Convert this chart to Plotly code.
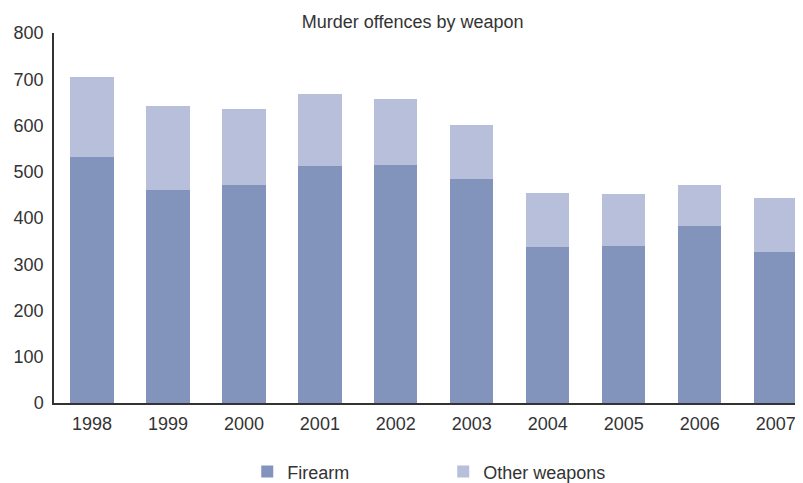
import plotly.graph_objects as go

years = ["1998", "1999", "2000", "2001", "2002", "2003", "2004", "2005", "2006", "2007"]
firearm = [532, 461, 471, 512, 515, 484, 337, 339, 383, 326]
other_weapons = [173, 181, 165, 156, 142, 117, 117, 113, 88, 117]
y_ticks = [0, 100, 200, 300, 400, 500, 600, 700, 800]

FONT = "Liberation Sans, Arial, sans-serif"
TXT = "#333333"

fig = go.Figure()
fig.add_trace(go.Bar(x=years, y=firearm, name="Firearm", marker=dict(color="#8294BC", line=dict(width=0))))
fig.add_trace(go.Bar(x=years, y=other_weapons, name="Other weapons", marker=dict(color="#B7BFDA", line=dict(width=0))))

# The page body adds an 8px margin, so the figure is 8px smaller than the window.
fig.update_layout(
    width=795, height=475,
    barmode="stack",
    bargap=0.43,
    plot_bgcolor="white",
    paper_bgcolor="white",
    margin=dict(l=46, r=0, t=25, b=80, autoexpand=False),
    font=dict(family=FONT, size=18, color=TXT),
    title=dict(text="Murder offences by weapon", x=0.509, xanchor="center", y=0.9705, yanchor="middle",
               font=dict(family=FONT, size=18, color=TXT)),
    showlegend=True,
    legend=dict(orientation="h", x=0.258, xanchor="left", y=-0.186, yanchor="middle",
                font=dict(family=FONT, size=18, color=TXT),
                entrywidth=151, traceorder="normal"),
)
fig.update_xaxes(
    type="category", range=[-0.5, 9.36], automargin=False,
    showline=True, linecolor=TXT, linewidth=1.5,
    ticks="", showgrid=False, ticklabelstandoff=4, tickfont=dict(size=18, color=TXT),
)
fig.update_yaxes(
    range=[0, 800], tickvals=y_ticks, automargin=False,
    showline=True, linecolor=TXT, linewidth=1.5,
    ticks="", showgrid=False, zeroline=False, ticklabelstandoff=5,
    tickfont=dict(size=18, color=TXT),
)

fig.write_html("out.html")
